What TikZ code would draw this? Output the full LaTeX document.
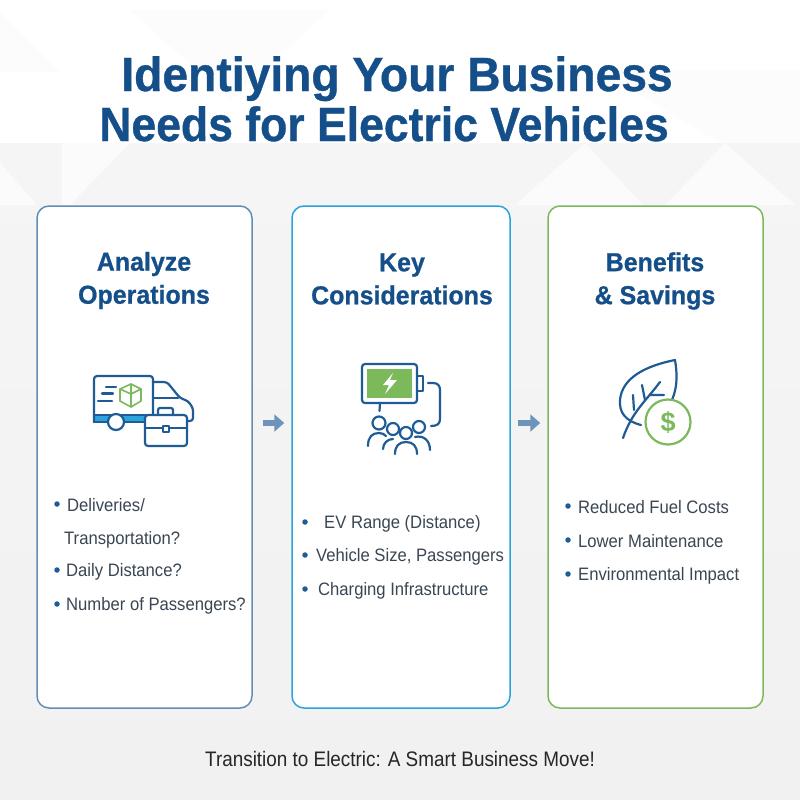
\documentclass[tikz,border=0pt]{standalone}
\usepackage{fontspec}
\setmainfont{Liberation Sans}
\newfontfamily\titlefont[FakeBold=0.8]{Liberation Sans Bold}
\usetikzlibrary{calc,arrows.meta}
\definecolor{navy}{HTML}{154F8A}
\definecolor{iconblue}{HTML}{1F5C96}
\definecolor{skyline}{HTML}{2BA3DC}
\definecolor{leafgreen}{HTML}{7CB95B}
\definecolor{bodytext}{HTML}{3A4653}
\definecolor{facet}{HTML}{F5F5F6}
\definecolor{facetlow}{HTML}{F1F1F1}
\definecolor{facetlight}{HTML}{FCFCFC}
\definecolor{facetpale}{HTML}{FBFBFB}
\tikzset{
    panel/.style={draw=#1,fill=white,line width=1.5pt,rounded corners=12pt,inner sep=0pt},
    banner/.style={text=navy,font=\titlefont\fontsize{48}{50}\selectfont,anchor=base,inner sep=0pt,transform shape},
    heading/.style={text=navy,font=\titlefont\fontsize{26}{33}\selectfont,align=center,xscale=.96,transform shape},
    point/.style={text=bodytext,font=\fontsize{18}{20}\selectfont,anchor=west,inner sep=0pt,xscale=.925,transform shape},
    dot/.style={circle,fill=iconblue,inner sep=0pt,minimum size=5.5pt},
    flow/.style={draw=#1,line width=6pt,-{Triangle[length=10pt,width=17pt]}},
    icon/.style={draw=iconblue,line width=2.2pt,line cap=round,line join=round},
    accent/.style={draw=leafgreen,line width=2.2pt,line cap=round,line join=round}
}
\begin{document}
\begin{tikzpicture}[x=1pt,y=-1pt]
\useasboundingbox (0,0) rectangle (800,800);
\fill[white] (0,0) rectangle (800,800);
% faint backdrop
\fill[top color=facet,bottom color=facetlow] (0,143) rectangle (800,800);
\fill[facetlight] (0,13) -- (59,72) -- (0,72) -- cycle;
\fill[facetlight] (130,10) -- (330,10) -- (230,100) -- cycle;
\fill[facetlight] (600,70) -- (800,70) -- (800,143) -- (720,143) -- cycle;
\fill[facetpale] (0,163) -- (37,205) -- (0,205) -- cycle;
\fill[facetpale] (62,143) -- (130,143) -- (70,205) -- (62,205) -- cycle;
\foreach \ax/\bx/\cx in {585/515/643,725/665/795}
    \fill[facetpale] (\ax,143) -- (\bx,205) -- (\cx,205) -- cycle;
% title
\node[banner,xscale=.963] (titleA) at (397,91) {Identiying Your Business};
\node[banner,xscale=.928] (titleB) at (384,141) {Needs for Electric Vehicles};
% cards
\node[panel=iconblue!70!white,minimum width=215pt,minimum height=502pt] (cardA) at (144.5,457) {};
\node[panel=skyline,minimum width=218pt,minimum height=502pt] (cardB) at (401,457) {};
\node[panel=leafgreen,minimum width=215pt,minimum height=502pt] (cardC) at (655.5,457) {};
\node[heading] (headA) at (144,280.5) {Analyze\\Operations};
\node[heading] (headB) at (402,279) {Key\\Considerations};
\node[heading] (headC) at (655,281) {Benefits\\\& Savings};
% arrows between the cards
\coordinate (arrowrow) at (0,423);
\draw[flow=iconblue!65!white,shorten <=10pt,shorten >=7pt] (cardA.east |- arrowrow) -- (cardB.west |- arrowrow);
\draw[flow=iconblue!65!white,shorten <=7pt,shorten >=7pt] (cardB.east |- arrowrow) -- (cardC.west |- arrowrow);
% truck icon
\fill[skyline] (95,415) rectangle (153,422);
\draw[icon,rounded corners=3pt] (94,422) -- (94,376) -- (153,376) -- (153,422);
\draw[icon] (94,415) -- (153,415) (94,422) -- (153,422);
\draw[icon,rounded corners=3pt] (153,382) -- (167,382) -- (180,398) -- (188,401) -- (193,408) -- (193,421) -- (187,421);
\draw[icon] (153,398) -- (178,398);
\draw[icon,fill=white] (116,422) circle (8);
\draw[icon] (106,387) -- (116,387) (102,393.5) -- (113,393.5) (98,401) -- (112,401);
\draw[accent,line width=1.6pt] (131,384) -- (141,389) -- (141,401) -- (131,407) -- (120,401) -- (120,389) -- cycle;
\draw[accent,line width=1.6pt] (120,389) -- (131,394) -- (141,389) (131,394) -- (131,407) (131,384) -- (131,394);
\draw[icon,fill=white,rounded corners=3pt] (145,415) rectangle (187,446);
\draw[icon,rounded corners=2pt] (158,415) -- (158,408) -- (173,408) -- (173,415);
\draw[icon] (145,428) -- (163,428) (169,428) -- (187,428);
\draw[icon,fill=white,line width=1.6pt] (163,426) rectangle (169,432);
% battery icon
\draw[icon,rounded corners=3pt] (362,364) rectangle (417,403);
\fill[leafgreen] (367,369) rectangle (412,398);
\fill[white] (393,373) -- (383,385) -- (389,385) -- (385,394) -- (397,380) -- (390,380) -- cycle;
\draw[icon] (417,376) -- (423,376) -- (423,391) -- (417,391);
\draw[icon] (428,383) -- (433,383) .. controls (438,383) and (440,386) .. (440,390) -- (440,419) .. controls (440,424) and (437,426) .. (431,426);
\draw[icon] (380,403) -- (379.5,411);
\draw[icon] (379,423) circle (6.5);
\draw[icon] (368,446) .. controls (368,437) and (372,433) .. (379,433) .. controls (382,433) and (384,434) .. (386,436);
\draw[icon] (393,429) circle (6);
\draw[icon] (383,449) .. controls (383,443) and (388,439) .. (393,439);
\draw[icon,fill=white] (406,433) circle (6);
\draw[icon] (395,454) .. controls (395,446) and (399,442) .. (406,442) .. controls (413,442) and (417,446) .. (417,454);
\draw[icon] (419,427) circle (6);
\draw[icon] (415,437) .. controls (423,435) and (430,440) .. (430,450);
% leaf icon
\draw[icon] (675,360) .. controls (645,366) and (622,378) .. (620,400) .. controls (619,412) and (625,421) .. (641,425);
\draw[icon] (675,360) .. controls (677,372) and (678,386) .. (672,400);
\draw[icon] (623,438) .. controls (632,412) and (645,402) .. (660,382);
\draw[icon] (633,395) -- (634,410) (642,385) -- (645,400) (664,395) -- (650,395);
\draw[accent,fill=white] (668,422) circle (22.5);
\node[text=leafgreen,font=\bfseries\fontsize{27}{27}\selectfont] (coin) at (668,422) {\$};
% points
\foreach \tag/\xa/\xb/\yy/\body in {
    a1/57/67/505.5/{Deliveries/},
    a3/57/66/571.5/{Daily Distance?},
    a4/57/66/605.5/{Number of Passengers?},
    b1/305/324/523.5/{EV Range (Distance)},
    b2/305/316/556.5/{Vehicle Size, Passengers},
    b3/305/318/590.5/{Charging Infrastructure},
    c1/568/578/507.5/{Reduced Fuel Costs},
    c2/568/578/541.5/{Lower Maintenance},
    c3/568/578/575.5/{Environmental Impact}}{
    \node[dot] (dot\tag) at (\xa,\yy-1.5) {};
    \node[point] (text\tag) at (\xb,\yy) {\body};
}
\node[point] (texta2) at (64,539.5) {Transportation?};
\node[text=black!85,font=\fontsize{21}{24}\selectfont,xscale=.9,transform shape] (closing) at (400,759) {Transition to Electric: A Smart Business Move!};
\end{tikzpicture}
\end{document}
